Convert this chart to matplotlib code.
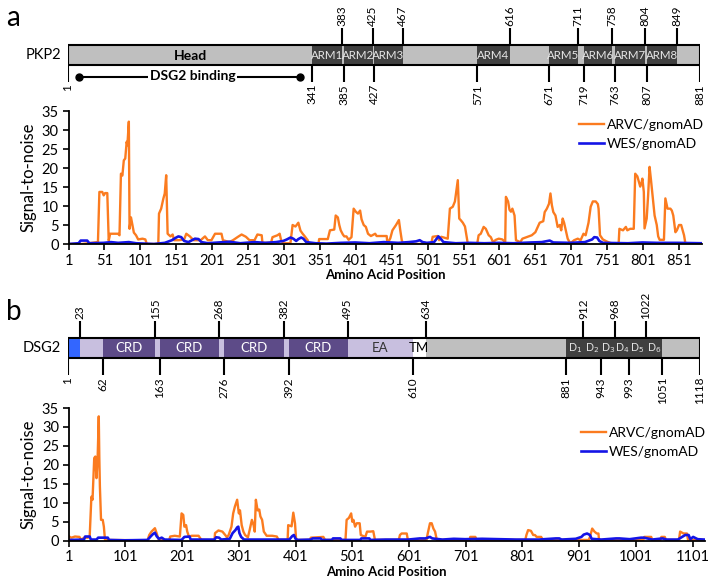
import numpy as np
import matplotlib
matplotlib.use("Agg")
import matplotlib.pyplot as plt

plt.rcParams['font.family'] = ['Lato', 'DejaVu Sans']

# ---------------- data ----------------
# PKP2 domain map
pkp2_edges = [1, 341, 383, 385, 425, 427, 467, 571, 616, 671, 711, 719, 758, 763, 804, 807, 849, 881]
pkp2_names = ["Head", "ARM1", "", "ARM2", "", "ARM3", "", "ARM4", "", "ARM5", "", "ARM6", "", "ARM7", "", "ARM8", ""]
pkp2_top = [383, 425, 467, 616, 711, 758, 804, 849]
pkp2_bottom = [1, 341, 385, 427, 571, 671, 719, 763, 807, 881]
dsg2_binding = [17, 324]

# DSG2 domain map
dsg2_edges = [1, 23, 62, 155, 163, 268, 276, 382, 392, 495, 610, 634, 881, 1051, 1118]
dsg2_names = ["", "", "CRD", "", "CRD", "", "CRD", "", "CRD", "EA", "TM", "", "", ""]
dsg2_kinds = ["sig", "pro", "crd", "pro", "crd", "pro", "crd", "pro", "crd", "pro", "tm", "cyt", "dsc", "cyt"]
dsg2_top = [23, 155, 268, 382, 495, 634, 912, 968, 1022]
dsg2_bottom = [1, 62, 163, 276, 392, 610, 881, 943, 993, 1051, 1118]
dsg2_repeat_edges = [881, 912, 943, 968, 993, 1022, 1051]

# PKP2 signal-to-noise (ARVC/gnomAD)
pkp2_arvc_pos = [1, 20, 42, 44, 48, 50, 52, 55, 57, 59, 70, 72, 74, 76, 78, 80, 82, 83, 85, 86, 88, 90, 92,
                 95, 98, 104, 108, 110, 126, 127, 130, 133, 135, 137, 139, 143, 146, 148, 155, 162, 165, 170,
                 175, 185, 191, 195, 200, 205, 214, 216, 225, 230, 237, 242, 248, 253, 260, 264, 270, 271, 283,
                 285, 292, 295, 297, 300, 310, 313, 317, 321, 324, 327, 330, 334, 336, 349, 350, 362, 365, 371,
                 373, 376, 378, 380, 383, 385, 388, 391, 395, 398, 401, 404, 407, 409, 412, 415, 418, 422, 428,
                 430, 444, 445, 449, 452, 457, 461, 463, 465, 467, 506, 508, 515, 517, 520, 529, 532, 536, 539,
                 543, 545, 547, 550, 553, 555, 557, 570, 572, 575, 579, 582, 586, 589, 592, 596, 600, 605, 609,
                 610, 613, 615, 617, 619, 622, 624, 630, 633, 640, 646, 651, 657, 662, 664, 667, 670, 672, 674,
                 676, 679, 682, 685, 687, 689, 691, 694, 696, 698, 700, 705, 710, 714, 718, 721, 725, 728, 731,
                 735, 738, 739, 741, 745, 750, 755, 763, 767, 768, 773, 777, 779, 783, 788, 790, 793, 797, 799,
                 800, 802, 803, 806, 808, 810, 812, 815, 817, 820, 822, 824, 830, 832, 835, 839, 841, 843, 846,
                 848, 851, 854, 856, 858, 860, 881]
pkp2_arvc_val = [0, 0, 0.5, 13.7, 13.7, 12.8, 13.4, 13.4, 0.9, 2.7, 2.7, 2.3, 18.5, 18.0, 22, 22.5, 26.9, 26,
                 32.2, 4, 7, 5, 3, 2.3, 1.2, 1.4, 1.2, 0, 0, 8, 9.3, 11.9, 13.3, 18.1, 2.7, 2.0, 2.5, 1.0, 1.0,
                 1.2, 2.7, 2.0, 1.0, 1.0, 2.0, 1.0, 1.0, 2.7, 2.7, 1.0, 0.5, 1.0, 1.9, 2.5, 1.9, 1.0, 1.0, 2.5,
                 2.3, 0.3, 0.3, 1.8, 2.3, 2.7, 1.0, 0.2, 0.2, 5.0, 4.6, 5.6, 3.5, 2.7, 2.0, 1.0, 0, 0, 1.3, 1.3,
                 3.6, 3.8, 7.5, 7.0, 5, 3.6, 2.5, 2, 2, 1.1, 1.8, 9.3, 8.5, 8, 8.8, 6.5, 5, 4.5, 2.7, 2.1, 2.7,
                 2.1, 2.1, 0, 1.5, 3.6, 5, 6.3, 3.5, 1, 0, 0, 1.9, 2.1, 1.0, 1.9, 1.4, 9.3, 9.8, 11.2, 16.8, 6.7,
                 6.3, 5.6, 4.6, 2.3, 0, 0, 2.3, 2.7, 4.5, 4.0, 2.3, 1.8, 0.5, 1.1, 1.4, 1.2, 0.5, 12.4, 11.2, 9,
                 8.5, 9.3, 7.5, 1.0, 0.5, 1.4, 1.9, 2.3, 3.1, 5.6, 6.0, 8.4, 9.3, 10.6, 13.3, 10.2, 8.4, 7.5,
                 4.5, 5.0, 3.6, 6.7, 5.6, 3.1, 1.4, 0.7, 0.2, 1.0, 1.4, 1.0, 2.7, 2.3, 5.6, 9.8, 11.2, 11.2, 10.5,
                 9.3, 2.3, 1.2, 0.7, 0.3, 0, 0.3, 4.0, 3.6, 4.5, 3.6, 4.0, 4.0, 18.5, 17.8, 15.1, 16.3, 17.2,
                 13.7, 4.1, 6.7, 12.8, 20.3, 16.8, 11.2, 7.5, 5.0, 2, 1.1, 1.1, 12, 9.3, 9.3, 8.8, 7.5, 3.1,
                 3.6, 5, 5, 3.6, 2.3, 0, 0]

# PKP2 signal-to-noise (WES/gnomAD)
pkp2_wes_pos = [1, 15, 18, 27, 30, 50, 60, 70, 85, 95, 120, 135, 145, 150, 154, 158, 162, 168, 173, 177, 182,
                186, 195, 210, 225, 240, 260, 275, 290, 300, 305, 310, 314, 318, 321, 325, 328, 332, 345, 360,
                380, 400, 420, 440, 460, 475, 485, 490, 494, 500, 510, 514, 516, 520, 523, 540, 560, 580, 600,
                620, 645, 660, 671, 676, 700, 720, 730, 733, 737, 740, 745, 780, 800, 820, 850, 883]
pkp2_wes_val = [0, 0.2, 0.9, 0.9, 0.2, 0.3, 0.5, 0.3, 0.5, 0.2, 0, 0.3, 1.0, 1.6, 2.0, 1.8, 0.8, 0.5, 1.0, 1.4,
                1.3, 0.5, 0.2, 0.4, 0.6, 0.2, 0.5, 0.3, 0.5, 0.8, 1.2, 1.7, 1.4, 0.8, 1.3, 1.7, 1.4, 0.5, 0.2,
                0.1, 0.3, 0.4, 0.2, 0.5, 0.3, 0.5, 0.7, 1.0, 0.5, 0.3, 0.5, 1.5, 2.0, 1.2, 0.5, 0.2, 0.3, 0.2,
                0.3, 0.2, 0.4, 0.5, 0.9, 0.4, 0.3, 0.5, 1.2, 1.8, 1.7, 0.8, 0.3, 0.2, 0.4, 0.3, 0.3, 0.2]

# DSG2 signal-to-noise (ARVC/gnomAD)
dsg2_arvc_pos = [1, 5, 8, 12, 20, 23, 28, 35, 38, 41, 43, 46, 48, 50, 52, 54, 55, 56, 58, 61, 63, 65, 140,
                 143, 147, 153, 156, 159, 162, 178, 180, 188, 197, 200, 203, 205, 208, 210, 213, 218, 230, 235,
                 258, 259, 265, 272, 277, 280, 283, 288, 291, 294, 298, 301, 303, 306, 309, 312, 317, 320, 324,
                 327, 329, 331, 334, 337, 339, 342, 345, 350, 360, 368, 371, 387, 388, 394, 397, 400, 402, 426,
                 428, 450, 453, 489, 491, 495, 499, 501, 503, 506, 509, 514, 516, 524, 527, 533, 538, 541, 583,
                 585, 588, 597, 599, 632, 634, 638, 641, 644, 647, 650, 708, 709, 718, 720, 806, 808, 811, 816,
                 820, 823, 826, 834, 837, 918, 920, 924, 928, 932, 935, 936, 1014, 1016, 1028, 1030, 1044, 1046,
                 1052, 1054, 1077, 1079, 1085, 1091, 1093, 1118]
dsg2_arvc_val = [1.2, 0.8, 0.9, 1.1, 1.0, 0.2, 0.8, 0.8, 1.1, 11.6, 10.8, 21.8, 22.2, 16.5, 21.8, 32.8, 21.8,
                 14.3, 5.5, 5.5, 3.7, 0.2, 0.1, 1.5, 2.4, 3.3, 2.0, 0.5, 0.1, 0.1, 1.1, 1.3, 1.1, 7.2, 6.8, 3.7,
                 4.1, 2.4, 1.1, 1.3, 1.3, 0.2, 0.1, 2.0, 2.7, 2.4, 1.5, 0.9, 1.5, 3.7, 7.2, 9.0, 10.8, 7.2, 8.0,
                 4.1, 2.4, 1.5, 0.9, 2.8, 5.5, 4.1, 2.4, 10.8, 8.0, 8.2, 6.4, 5.5, 2.4, 1.3, 1.3, 1.1, 0.2, 0.2,
                 4.1, 3.8, 7.4, 4.6, 0.2, 0.2, 0.8, 1.0, 0.2, 0.2, 5.5, 6.0, 7.2, 5.0, 5.5, 3.7, 4.6, 4.6, 1.5,
                 1.0, 2.4, 2.4, 2.5, 0.2, 0.2, 1.5, 1.9, 1.9, 0.2, 0.2, 1.9, 4.6, 4.6, 3.2, 2.4, 0.2, 0.2, 1.0,
                 1.0, 0.2, 0.2, 1.5, 2.8, 2.6, 1.5, 1.5, 1.0, 1.0, 0.2, 0.2, 1.0, 3.2, 2.4, 1.9, 1.9, 0.2, 0.2,
                 1.0, 1.0, 0.2, 0.2, 1.0, 1.0, 0.2, 0.2, 2.4, 1.9, 1.9, 0.2, 0.2]

# DSG2 signal-to-noise (WES/gnomAD)
dsg2_wes_pos = [1, 28, 30, 38, 40, 50, 53, 70, 72, 100, 140, 146, 150, 153, 156, 160, 165, 170, 200, 205, 214,
                216, 258, 261, 266, 270, 285, 290, 295, 298, 300, 302, 305, 310, 390, 395, 398, 401, 405, 428,
                431, 445, 448, 465, 467, 480, 482, 515, 517, 531, 533, 560, 600, 620, 630, 638, 642, 660, 680,
                700, 730, 760, 790, 830, 860, 866, 870, 895, 905, 909, 915, 920, 923, 940, 966, 972, 990, 1010,
                1015, 1030, 1048, 1055, 1075, 1088, 1094, 1097, 1102, 1110, 1122]
dsg2_wes_val = [0.2, 0.3, 1.1, 1.1, 0.3, 0.3, 0.8, 0.8, 0.2, 0.1, 0.2, 1.2, 1.8, 2.1, 1.2, 0.5, 0.8, 0.3, 0.2,
                1.0, 1.1, 0.3, 0.3, 0.9, 0.8, 0.3, 0.5, 2.0, 2.8, 3.5, 3.7, 2.0, 1.0, 0.3, 0.3, 1.2, 1.5, 0.5,
                0.2, 0.3, 0.6, 0.6, 0.2, 0.2, 0.6, 0.6, 0.2, 0.2, 0.6, 0.6, 0.2, 0.3, 0.3, 0.6, 0.6, 1.0, 0.6,
                0.3, 0.5, 0.4, 0.5, 0.4, 0.3, 0.3, 0.6, 0.6, 0.3, 0.5, 1.0, 1.6, 1.9, 1.5, 0.5, 0.3, 0.6, 0.6,
                0.4, 0.8, 0.8, 0.3, 0.6, 0.3, 0.3, 1.5, 1.5, 0.4, 1.0, 0.4, 0.3]

pkp2_xticks = list(range(1, 852, 50))
dsg2_xticks = list(range(1, 1102, 100))
yticks = list(range(0, 36, 5))

# ---------------- style ----------------
W, H = 709, 581
ORANGE = '#fb7b1f'
BLUE = '#1414e6'
LIGHT = '#bfbfbf'
DARK = '#404040'
kind_colors = {'sig': '#3366ff', 'pro': '#c8bfdf', 'crd': '#5d4b88', 'tm': '#ffffff',
               'cyt': LIGHT, 'dsc': DARK}


def box(l, t, r, b):
    return [l / W, 1 - b / H, (r - l) / W, (b - t) / H]


fig = plt.figure(figsize=(W / 100, H / 100), dpi=100)


def domain_map(ax, edges, colors, names, name_colors, top, bottom, y0, label):
    # bar spans y0..y0+20 (pixel-like coords)
    starts = np.array(edges[:-1])
    widths = np.diff(edges)
    ax.barh(y0 + 10, widths, left=starts, height=20, color=colors, edgecolor='none')
    ax.barh(y0 + 10, edges[-1] - edges[0], left=edges[0], height=20, fill=False,
            edgecolor='black', linewidth=1.5)
    for s, w, n, c in zip(starts, widths, names, name_colors):
        if n:
            size = 10 if n == 'Head' else (8.3 if n.startswith('ARM') else 9.5)
            ax.text(s + w / 2, y0 + 10.5, n, ha='center', va='center', fontsize=size, color=c,
                    fontweight='bold' if n == 'Head' else 'normal')
    ax.vlines(top, y0 - 17, y0, color='black', linewidth=1.5)
    ax.vlines(bottom, y0 + 20, y0 + 37, color='black', linewidth=1.5)
    for p in top:
        ax.text(p, y0 - 19, str(p), rotation=90, ha='center', va='bottom', fontsize=8.5)
    for p in bottom:
        ax.text(p, y0 + 39, str(p), rotation=90, ha='center', va='top', fontsize=8.5)
    ax.text(edges[0] - 7 * (edges[-1] / 632), y0 + 10, label, ha='right', va='center', fontsize=10.5)
    ax.axis('off')


# ---- panel a: PKP2 map ----
ax_m1 = fig.add_axes(box(68, 0, 700, 110))
ax_m1.set_xlim(1, 881)
ax_m1.set_ylim(110, 0)
pk_colors = [LIGHT if (n == "" or n == "Head") else DARK for n in pkp2_names]
pk_txt = ['black' if n == "Head" else '#e6e6e6' for n in pkp2_names]
domain_map(ax_m1, pkp2_edges, pk_colors, pkp2_names, pk_txt, pkp2_top, pkp2_bottom, 45, 'PKP2')
ax_m1.plot(dsg2_binding, [77, 77], color='black', linewidth=1.5, marker='o', markersize=5)
ax_m1.text(np.mean(dsg2_binding) + 4, 76.5, 'DSG2 binding', ha='center', va='center', fontsize=10,
           fontweight='bold', bbox=dict(facecolor='white', edgecolor='none', pad=1))

# ---- panel b: DSG2 map ----
ax_m2 = fig.add_axes(box(68, 300, 700, 400))
ax_m2.set_xlim(1, 1118)
ax_m2.set_ylim(100, 0)
ds_colors = [kind_colors[k] for k in dsg2_kinds]
ds_txt = ['#333333' if n == 'EA' else ('black' if n == 'TM' else 'white') for n in dsg2_names]
domain_map(ax_m2, dsg2_edges, ds_colors, dsg2_names, ds_txt, dsg2_top, dsg2_bottom, 38, 'DSG2')
for i in range(6):
    mid = (dsg2_repeat_edges[i] + dsg2_repeat_edges[i + 1]) / 2
    ax_m2.text(mid, 48.5, 'D$_{%d}$' % (i + 1), ha='center', va='center', fontsize=7.6, color='#e6e6e6')

fig.text(6 / W, 1 - 18 / H, 'a', fontsize=20, va='center', ha='left')
fig.text(6 / W, 1 - 312 / H, 'b', fontsize=20, va='center', ha='left')


def signal_axes(rect, xmax, xticks, pos_a, val_a, pos_w, val_w, legend_y):
    ax = fig.add_axes(rect)
    ax.plot(pos_a, val_a, color=ORANGE, linewidth=1.7, label='ARVC/gnomAD')
    ax.plot(pos_w, val_w, color=BLUE, linewidth=1.9, label='WES/gnomAD')
    ax.set_xlim(1, xmax)
    ax.set_ylim(0, 35)
    ax.set_xticks(xticks)
    ax.set_yticks(yticks)
    ax.tick_params(direction='out', length=4, width=1.2, labelsize=10.5, pad=3)
    for s in ['top', 'right']:
        ax.spines[s].set_visible(False)
    for s in ['left', 'bottom']:
        ax.spines[s].set_linewidth(1.3)
    ax.set_ylabel('Signal-to-noise', fontsize=12, labelpad=4)
    ax.set_xlabel('Amino Acid Position', fontsize=9.5, fontweight='bold', labelpad=1)
    ax.legend(loc='upper left', bbox_to_anchor=(0.795, legend_y), frameon=False, fontsize=10,
              handlelength=1.8, handletextpad=0.2, labelspacing=0.5, borderpad=0)
    return ax


signal_axes(box(68.5, 111, 702, 244), 883, pkp2_xticks, pkp2_arvc_pos, pkp2_arvc_val,
            pkp2_wes_pos, pkp2_wes_val, 0.99)
signal_axes(box(68.7, 408, 704.5, 540.7), 1122, dsg2_xticks, dsg2_arvc_pos, dsg2_arvc_val,
            dsg2_wes_pos, dsg2_wes_val, 0.91)

fig.savefig('out.png', dpi=100)
